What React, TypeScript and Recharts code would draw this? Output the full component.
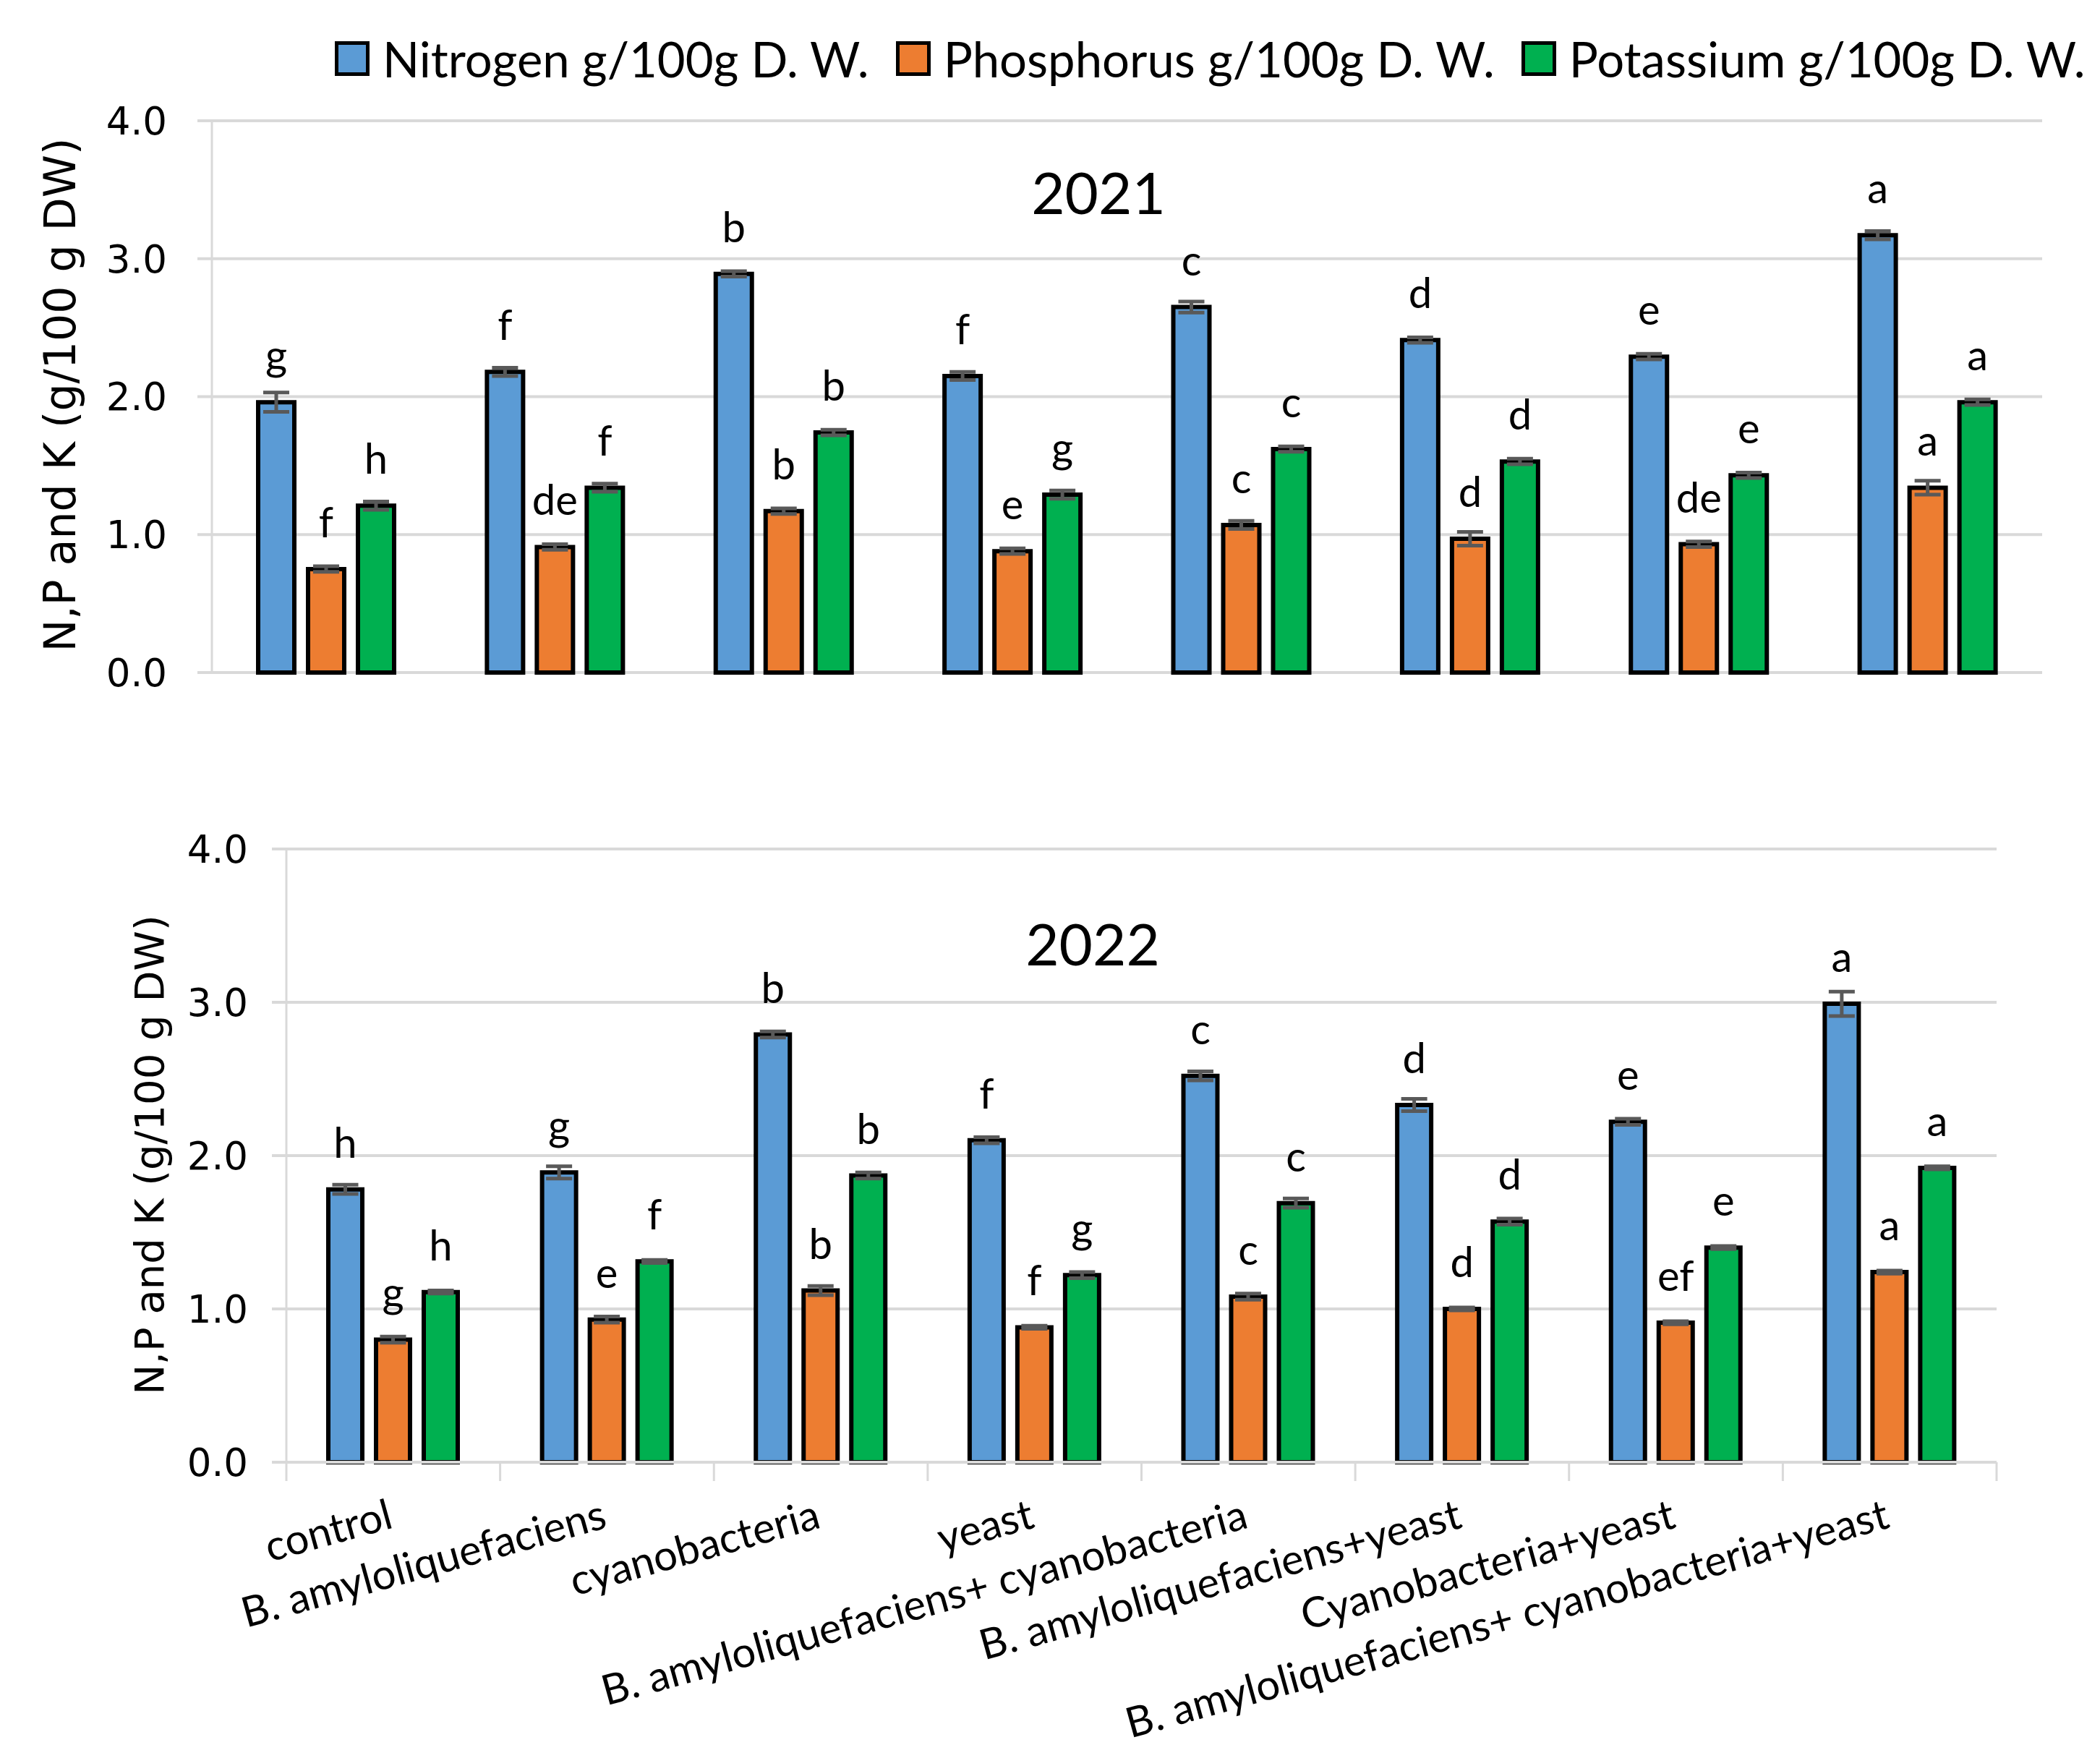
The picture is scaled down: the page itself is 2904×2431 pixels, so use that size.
import React from 'react';
import { BarChart, Bar, XAxis, YAxis, CartesianGrid, ErrorBar, LabelList, Label } from 'recharts';

document.body.style.margin = '0';

const categories = [
  'control',
  'B. amyloliquefaciens',
  'cyanobacteria',
  'yeast',
  'B. amyloliquefaciens+ cyanobacteria',
  'B. amyloliquefaciens+yeast',
  'Cyanobacteria+yeast',
  'B. amyloliquefaciens+ cyanobacteria+yeast',
];

const seriesNames = ['Nitrogen g/100g D. W.', 'Phosphorus g/100g D. W.', 'Potassium g/100g D. W.'];
const yTicks = [0, 1, 2, 3, 4];

// 2021
const nitrogen2021 = [1.96, 2.18, 2.89, 2.15, 2.65, 2.41, 2.29, 3.17];
const phosphorus2021 = [0.75, 0.91, 1.17, 0.88, 1.07, 0.97, 0.93, 1.34];
const potassium2021 = [1.21, 1.34, 1.74, 1.29, 1.62, 1.53, 1.43, 1.96];
const nitrogenErr2021 = [0.07, 0.03, 0.02, 0.03, 0.04, 0.02, 0.02, 0.03];
const phosphorusErr2021 = [0.02, 0.02, 0.02, 0.02, 0.03, 0.05, 0.02, 0.05];
const potassiumErr2021 = [0.03, 0.03, 0.02, 0.03, 0.02, 0.02, 0.02, 0.02];
const nitrogenLetters2021 = ['g', 'f', 'b', 'f', 'c', 'd', 'e', 'a'];
const phosphorusLetters2021 = ['f', 'de', 'b', 'e', 'c', 'd', 'de', 'a'];
const potassiumLetters2021 = ['h', 'f', 'b', 'g', 'c', 'd', 'e', 'a'];

// 2022
const nitrogen2022 = [1.78, 1.89, 2.79, 2.1, 2.52, 2.33, 2.22, 2.99];
const phosphorus2022 = [0.8, 0.93, 1.12, 0.88, 1.08, 1.0, 0.91, 1.24];
const potassium2022 = [1.11, 1.31, 1.87, 1.22, 1.69, 1.57, 1.4, 1.92];
const nitrogenErr2022 = [0.03, 0.04, 0.02, 0.02, 0.03, 0.04, 0.02, 0.08];
const phosphorusErr2022 = [0.02, 0.02, 0.03, 0.01, 0.02, 0.01, 0.01, 0.01];
const potassiumErr2022 = [0.01, 0.01, 0.02, 0.02, 0.03, 0.02, 0.01, 0.01];
const nitrogenLetters2022 = ['h', 'g', 'b', 'f', 'c', 'd', 'e', 'a'];
const phosphorusLetters2022 = ['g', 'e', 'b', 'f', 'c', 'd', 'ef', 'a'];
const potassiumLetters2022 = ['h', 'f', 'b', 'g', 'c', 'd', 'e', 'a'];

const COLORS = ['#5B9BD5', '#ED7D31', '#00B050'];
const GRID = '#D9D9D9';
const ERR = '#595959';
const NARROW = 'Lato, "Open Sans", sans-serif';
const WIDE = '"DejaVu Sans", Verdana, sans-serif';

const W = 2904;

const buildRows = (n: number[], p: number[], k: number[], ne: number[], pe: number[], ke: number[],
  nl: string[], pl: string[], kl: string[]) =>
  categories.map((category, i) => ({
    category,
    n: n[i], p: p[i], k: k[i],
    nErr: ne[i], pErr: pe[i], kErr: ke[i],
    nLetter: nl[i], pLetter: pl[i], kLetter: kl[i],
  }));

const data2021 = buildRows(nitrogen2021, phosphorus2021, potassium2021, nitrogenErr2021, phosphorusErr2021,
  potassiumErr2021, nitrogenLetters2021, phosphorusLetters2021, potassiumLetters2021);
const data2022 = buildRows(nitrogen2022, phosphorus2022, potassium2022, nitrogenErr2022, phosphorusErr2022,
  potassiumErr2022, nitrogenLetters2022, phosphorusLetters2022, potassiumLetters2022);

const letterLabel = (props: any) => {
  const { x, y, width, value } = props;
  return (
    <text x={x + width / 2} y={y - 44} textAnchor="middle" fontFamily={NARROW} fontSize={58} fill="#000">
      {value}
    </text>
  );
};

interface YearChartProps {
  data: typeof data2021;
  title: string;
  height: number;
  margin: { top: number; right: number; bottom: number; left: number };
  yAxisWidth: number;
  tickMargin: number;
  barSize: number;
  yLabel: { x: number; y: number; size: number };
  titlePos: { x: number; y: number };
  showCategories?: boolean;
  xAxisHeight?: number;
}

const YearChart: React.FC<YearChartProps> = ({
  data, title, height, margin, yAxisWidth, tickMargin, barSize, yLabel, titlePos, showCategories, xAxisHeight,
}) => {
  const band = (W - margin.left - margin.right - yAxisWidth) / categories.length;

  const CategoryTick = (props: any) => {
    const { x, y, payload, index } = props;
    const half = band / 2;
    return (
      <g>
        <line x1={x - half} x2={x - half} y1={y} y2={y + 26} stroke={GRID} strokeWidth={3} />
        {index === categories.length - 1 && (
          <line x1={x + half} x2={x + half} y1={y} y2={y + 26} stroke={GRID} strokeWidth={3} />
        )}
        <text
          transform={`translate(${x + 2},${y + 90}) rotate(-15.5)`}
          textAnchor="end"
          fontFamily={NARROW}
          fontSize={58}
          fill="#000"
        >
          {payload.value}
        </text>
      </g>
    );
  };

  const keys = ['n', 'p', 'k'];

  return (
    <BarChart width={W} height={height} data={data} margin={margin} barGap={19} barSize={barSize}>
      <CartesianGrid horizontal vertical={false} stroke={GRID} strokeWidth={4} />
      {showCategories ? (
        <XAxis
          dataKey="category"
          interval={0}
          tickLine={false}
          tickSize={0}
          tickMargin={0}
          axisLine={{ stroke: GRID, strokeWidth: 4 }}
          tick={<CategoryTick />}
          height={xAxisHeight}
        />
      ) : (
        <XAxis dataKey="category" hide />
      )}
      <YAxis
        domain={[0, 4]}
        ticks={yTicks}
        width={yAxisWidth}
        tickFormatter={(v: number) => v.toFixed(1)}
        tick={{ fontFamily: WIDE, fontSize: 53, fill: '#000' }}
        tickSize={20}
        tickMargin={tickMargin}
        axisLine={{ stroke: GRID, strokeWidth: 3 }}
        tickLine={{ stroke: GRID, strokeWidth: 4 }}
      >
        <Label
          content={() => (
            <text
              transform={`translate(${yLabel.x},${yLabel.y}) rotate(-90)`}
              textAnchor="middle"
              dominantBaseline="central"
              fontFamily={WIDE}
              fontSize={yLabel.size}
              fill="#000"
            >
              N,P and K (g/100 g DW)
            </text>
          )}
        />
        <Label
          content={() => (
            <text x={titlePos.x} y={titlePos.y} textAnchor="middle" fontFamily={NARROW} fontSize={80} fill="#000">
              {title}
            </text>
          )}
        />
      </YAxis>
      {keys.map((key, i) => (
        <Bar
          key={key}
          dataKey={key}
          name={seriesNames[i]}
          fill={COLORS[i]}
          stroke="#000"
          strokeWidth={6}
          isAnimationActive={false}
        >
          <ErrorBar dataKey={`${key}Err`} width={18} strokeWidth={5} stroke={ERR} direction="y" />
          <LabelList dataKey={`${key}Letter`} content={letterLabel} />
        </Bar>
      ))}
    </BarChart>
  );
};

const LegendBox: React.FC = () => (
  <div
    style={{
      position: 'absolute',
      left: 463,
      top: 48,
      height: 66,
      display: 'flex',
      alignItems: 'center',
      fontFamily: NARROW,
      fontSize: 67,
      color: '#000',
      whiteSpace: 'nowrap',
    }}
  >
    {seriesNames.map((name, i) => (
      <div key={name} style={{ display: 'flex', alignItems: 'center', marginRight: i < 2 ? 37 : 0 }}>
        <div
          style={{
            width: 48,
            height: 48,
            boxSizing: 'border-box',
            border: '5px solid #000',
            background: COLORS[i],
            marginRight: 18,
          }}
        />
        <span>{name}</span>
      </div>
    ))}
  </div>
);

export default function App() {
  return (
    <div style={{ position: 'relative', width: W, height: 2431, background: '#fff', overflow: 'hidden' }}>
      <div style={{ position: 'absolute', left: 0, top: 0 }}>
        <YearChart
          data={data2021}
          title="2021"
          height={1010}
          margin={{ top: 167, right: 80, bottom: 80, left: 0 }}
          yAxisWidth={293}
          tickMargin={42}
          barSize={50}
          yLabel={{ x: 83, y: 546, size: 60 }}
          titlePos={{ x: 1519, y: 296 }}
        />
      </div>
      <div style={{ position: 'absolute', left: 0, top: 1010 }}>
        <YearChart
          data={data2022}
          title="2022"
          height={1421}
          margin={{ top: 164, right: 143, bottom: 0, left: 0 }}
          yAxisWidth={396}
          tickMargin={33}
          barSize={47}
          yLabel={{ x: 206, y: 587, size: 56 }}
          titlePos={{ x: 1511, y: 325 }}
          showCategories
          xAxisHeight={409}
        />
      </div>
      <LegendBox />
    </div>
  );
}
